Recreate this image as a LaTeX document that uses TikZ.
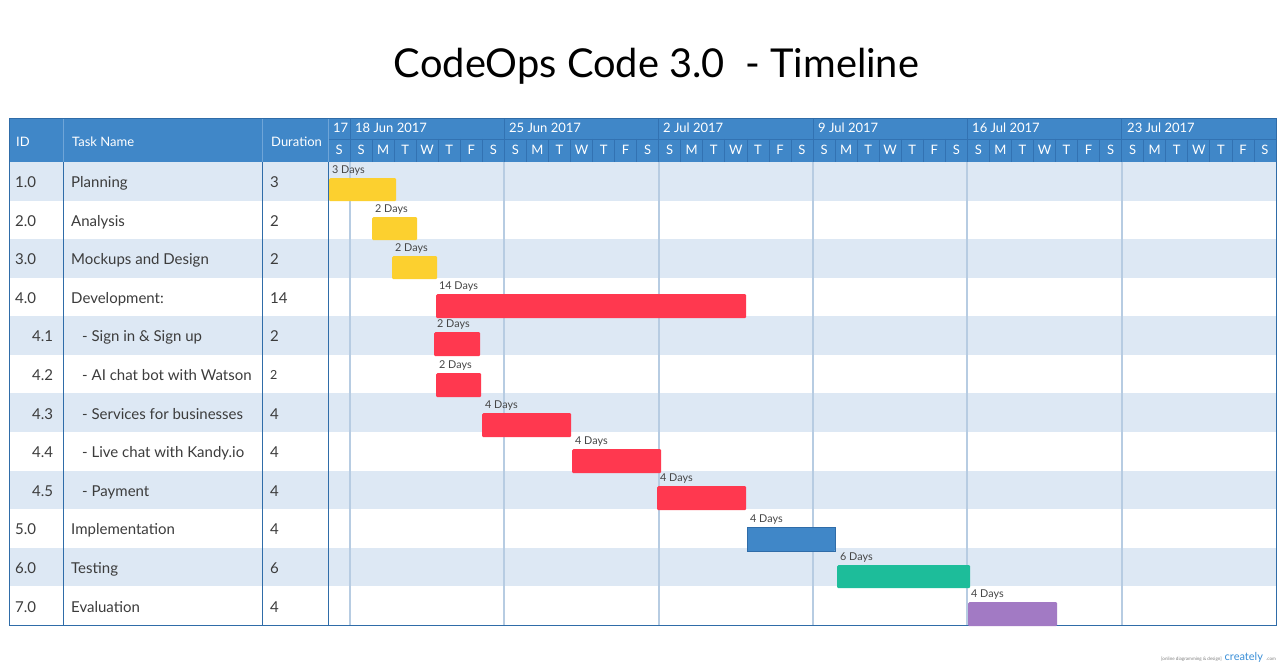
\documentclass[tikz,border=0pt]{standalone}
\usepackage{fontspec}
\setmainfont{Lato}
\definecolor{hdr}{HTML}{4087C8}
\definecolor{hdrline}{HTML}{3272B2}
\definecolor{hdrsep}{HTML}{6FA5D8}
\definecolor{band}{HTML}{DDE8F4}
\definecolor{weekline}{HTML}{B7CCE2}
\definecolor{colline}{HTML}{2F6CA8}
\definecolor{txt}{HTML}{3C3C3C}
\definecolor{lbl}{HTML}{454545}
\definecolor{byellow}{HTML}{FCD02F}
\definecolor{bred}{HTML}{FF384F}
\definecolor{bblue}{HTML}{4087C8}
\definecolor{bteal}{HTML}{1DBD9A}
\definecolor{bpurple}{HTML}{A27AC4}
\definecolor{crblue}{HTML}{3A8FD8}
\tikzset{
  bodytext/.style={anchor=base west, inner sep=0pt, text=txt, font=\fontsize{15}{18}\selectfont},
  hdrtext/.style={anchor=base west, inner sep=0pt, text=white, font=\fontsize{13}{16}\selectfont},
  daytext/.style={anchor=base, inner sep=0pt, text=white, font=\fontsize{13}{16}\selectfont},
  barbox/.style={anchor=north west, inner sep=0pt, rounded corners=1.2pt},
  barlabel/.style={anchor=base west, inner sep=0pt, text=lbl, font=\fontsize{10.8}{12}\selectfont},
}
\newcommand\ganttbar[7]{%
  \pgfmathsetmacro\gbw{#4-#2}%
  \pgfmathsetmacro\gbh{#5-#3}%
  \node[barbox, fill=#6, minimum width=\gbw pt, minimum height=\gbh pt] (#1) at (#2,#3) {};
  \node[barlabel] (#1lbl) at (#2+3,#3-4.5) {#7};
}
\newcommand\taskrow[5]{%
  \pgfmathsetmacro\rb{162+(#1-0.5)*38.583+6.3}%
  \node[bodytext] (id#1) at (#2,\rb) {#3};
  \node[bodytext] (name#1) at (#4,\rb) {#5};
}
\begin{document}
\begin{tikzpicture}[x=1pt,y=-1pt]
\useasboundingbox (0,0) rectangle (1280,668);
\fill[white] (0,0) rectangle (1280,668);

% title
\node[anchor=base, inner sep=0pt, text=black, font=\fontsize{39.8}{46}\selectfont] (title) at (656.5,78) {CodeOps Code 3.0\ \ - Timeline};

% row bands
\foreach \k in {1,3,...,11}
  \fill[band] (9,{162+(\k-1)*38.583}) rectangle (1276,{162+\k*38.583});

% header
\fill[hdr] (9,119) rectangle (1276,162);
\draw[hdrline, line width=0.8pt] (328,139) -- (1276,139);
\foreach \i in {1,...,42}
  \draw[hdrline, line width=0.8pt] ({328+\i*22.047},139) -- ++(0,23);
\foreach \i in {1,8,15,22,29,36}
  \draw[hdrline, line width=0.8pt] ({328+\i*22.047},119) -- ++(0,20);
\foreach \x in {63,262,328}
  \draw[hdrsep, line width=0.8pt] (\x,119) -- (\x,162);

% week lines in body
\foreach \i in {1,8,15,22,29,36}
  \draw[weekline, line width=1.8pt] ({328+\i*22.047},162) -- ({328+\i*22.047},625);

% column separators
\foreach \x in {63,262,328}
  \draw[colline, line width=1pt] (\x,162) -- (\x,625);

% border
\draw[colline, line width=1pt] (9,119) rectangle (1276,625);

% header text
\node[hdrtext] (hid) at (16,146.5) {ID};
\node[hdrtext] (hname) at (72,146.5) {Task Name};
\node[hdrtext] (hdur) at (271,146.5) {Duration};
\node[hdrtext] (w0) at (333,132.5) {17};
\node[hdrtext] (w1) at (355,132.5) {18 Jun 2017};
\node[hdrtext] (w2) at (509,132.5) {25 Jun 2017};
\node[hdrtext] (w3) at (663,132.5) {2 Jul 2017};
\node[hdrtext] (w4) at (818,132.5) {9 Jul 2017};
\node[hdrtext] (w5) at (972,132.5) {16 Jul 2017};
\node[hdrtext] (w6) at (1127,132.5) {23 Jul 2017};
\node[daytext] (day0) at ({328+0.5*22.047},155) {S};
\foreach \w in {0,...,5}{
  \foreach \l [count=\j from 0] in {S,M,T,W,T,F,S}{
    \pgfmathtruncatemacro\di{1+7*\w+\j}
    \node[daytext] (day\di) at ({328+(\di+0.5)*22.047},155) {\l};
  }
}

% body text
\taskrow{1}{15}{1.0}{71}{Planning}
\taskrow{2}{15}{2.0}{71}{Analysis}
\taskrow{3}{15}{3.0}{71}{Mockups and Design}
\taskrow{4}{15}{4.0}{71}{Development:}
\taskrow{5}{32}{4.1}{82}{- Sign in \& Sign up}
\taskrow{6}{32}{4.2}{82}{- AI chat bot with Watson}
\taskrow{7}{32}{4.3}{82}{- Services for businesses}
\taskrow{8}{32}{4.4}{82}{- Live chat with Kandy.io}
\taskrow{9}{32}{4.5}{82}{- Payment}
\taskrow{10}{15}{5.0}{71}{Implementation}
\taskrow{11}{15}{6.0}{71}{Testing}
\taskrow{12}{15}{7.0}{71}{Evaluation}
\foreach \k/\d in {1/3,2/2,3/2,4/14,5/2,7/4,8/4,9/4,10/4,11/6,12/4}
  \node[bodytext] (dur\k) at (270,{162+(\k-0.5)*38.583+6.3}) {\d};
\node[bodytext, font=\fontsize{12.5}{15}\selectfont] (dur6) at (270,{162+5.5*38.583+5.5}) {2};

% bars
\ganttbar{b1}{329}{178}{396}{201}{byellow}{3 Days}
\ganttbar{b2}{372}{217}{417}{240}{byellow}{2 Days}
\ganttbar{b3}{392}{256}{437}{279}{byellow}{2 Days}
\ganttbar{b4}{436}{294}{746}{318}{bred}{14 Days}
\ganttbar{b41}{434}{332}{480}{356}{bred}{2 Days}
\ganttbar{b42}{436}{373}{481}{397}{bred}{2 Days}
\ganttbar{b43}{482}{413}{571}{437}{bred}{4 Days}
\ganttbar{b44}{572}{449}{661}{473}{bred}{4 Days}
\ganttbar{b45}{657}{486}{746}{510}{bred}{4 Days}
\ganttbar{b5}{747}{527}{835}{551}{bblue}{4 Days}
\draw[colline, line width=0.6pt] (b5.north west) rectangle (b5.south east);
\ganttbar{b6}{837}{565}{970}{588}{bteal}{6 Days}
\ganttbar{b7}{968}{602}{1057}{626}{bpurple}{4 Days}

% watermark
\node[anchor=base east, inner sep=0pt, text=gray, font=\fontsize{4.6}{6}\selectfont] (crtag) at (1222,660) {[online diagramming \& design]};
\node[anchor=base west, inner sep=0pt, text=crblue, font=\fontsize{11}{13}\selectfont] (crlogo) at (1224.5,660) {creately};
\node[anchor=base west, inner sep=0pt, text=gray, font=\fontsize{4.6}{6}\selectfont] (crcom) at ([xshift=3pt]crlogo.base east) {.com};
\end{tikzpicture}
\end{document}
